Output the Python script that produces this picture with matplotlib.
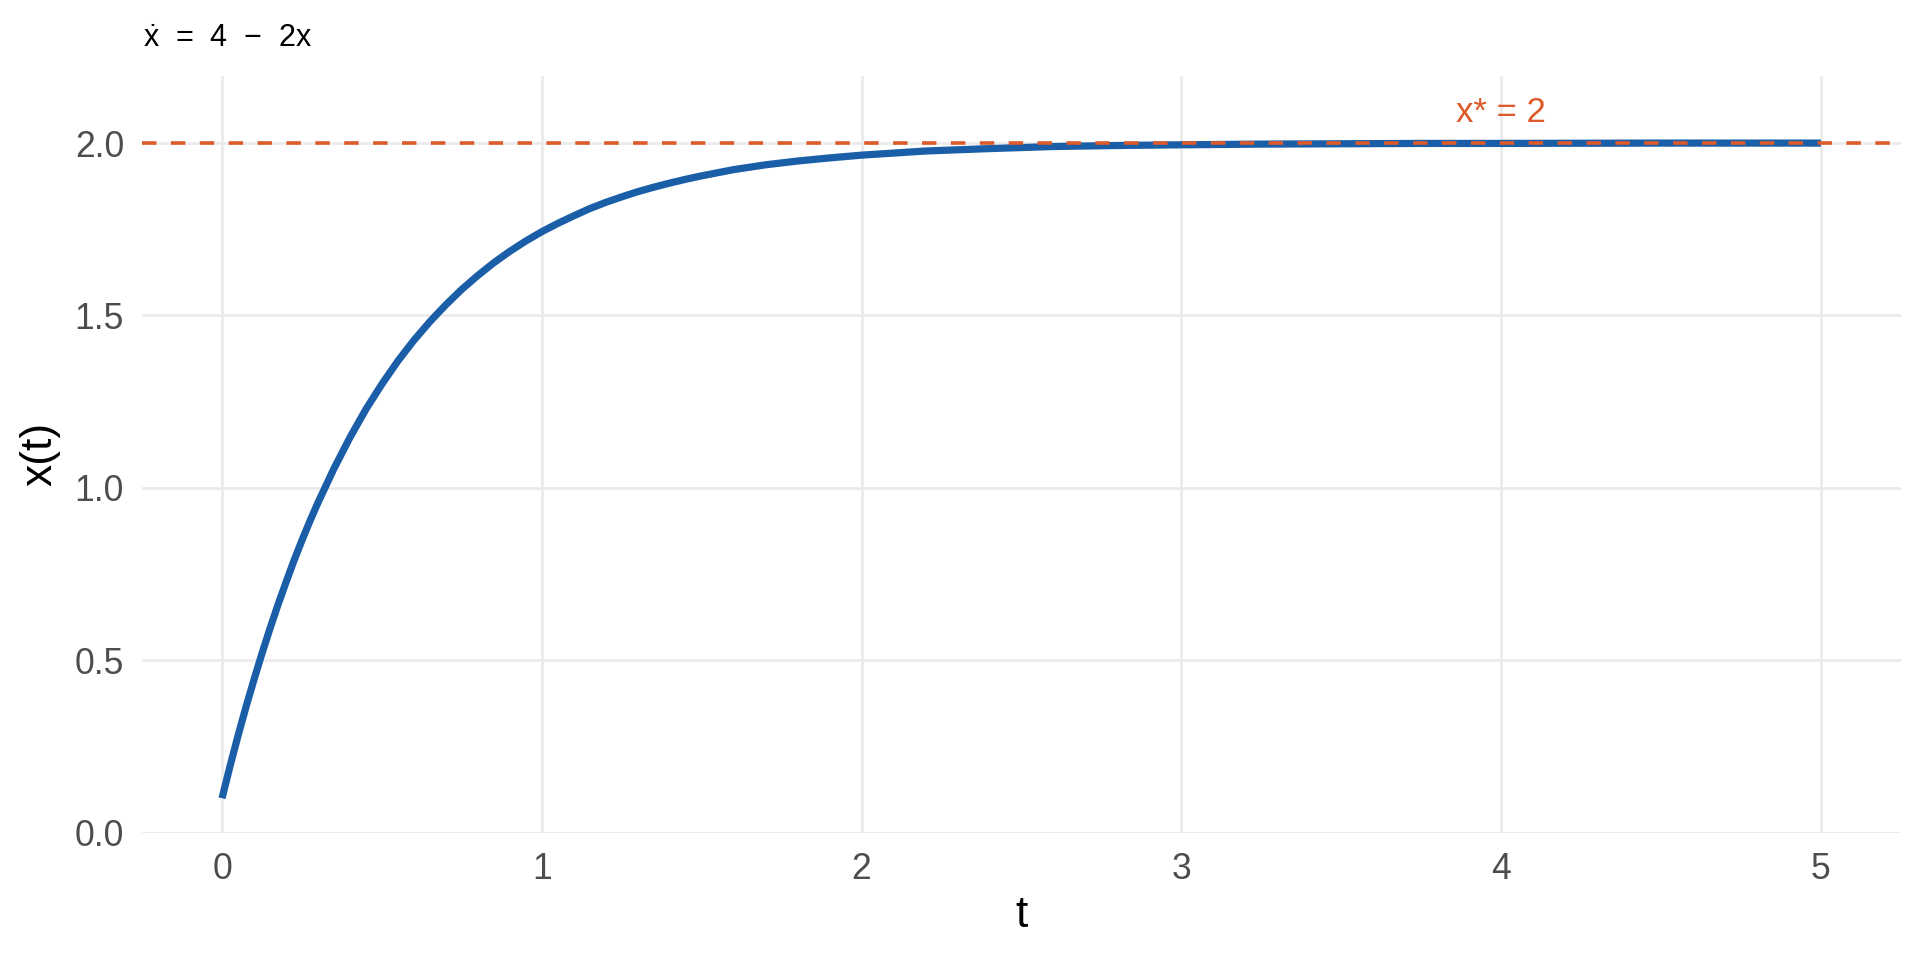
import numpy as np
import matplotlib
matplotlib.use("Agg")
import matplotlib.pyplot as plt

plt.rcParams['font.family'] = ['Liberation Sans', 'DejaVu Sans']
plt.rcParams['mathtext.fontset'] = 'custom'
plt.rcParams['mathtext.rm'] = 'Liberation Sans'
plt.rcParams['mathtext.it'] = 'Liberation Sans'
plt.rcParams['mathtext.bf'] = 'Liberation Sans:bold'

# x(t)
t_vals = [0.0, 0.025, 0.05, 0.075, 0.1, 0.125, 0.15, 0.175, 0.2, 0.225, 0.25, 0.275,
          0.3, 0.35, 0.4, 0.45, 0.5, 0.55, 0.6, 0.65, 0.7, 0.75, 0.8, 0.85, 0.9, 0.95,
          1.0, 1.05, 1.1, 1.15, 1.2, 1.25, 1.3, 1.35, 1.4, 1.45, 1.5, 1.6, 1.7, 1.8,
          1.9, 2.0, 2.2, 2.4, 2.6, 2.8, 3.0, 3.25, 3.5, 3.75, 4.0, 4.5, 5.0]
x_vals = [0.100, 0.193, 0.281, 0.365, 0.444, 0.520, 0.592, 0.661, 0.726, 0.789, 0.848, 0.904,
          0.957, 1.056, 1.146, 1.228, 1.301, 1.368, 1.428, 1.482, 1.531, 1.576, 1.616, 1.653,
          1.686, 1.716, 1.743, 1.767, 1.789, 1.810, 1.828, 1.844, 1.859, 1.872, 1.884, 1.895,
          1.905, 1.923, 1.937, 1.948, 1.957, 1.965, 1.977, 1.984, 1.990, 1.993, 1.995, 1.997,
          1.998, 1.999, 1.999, 2.000, 2.000]
x_star = 2.0
x_ticks = [0, 1, 2, 3, 4, 5]
y_ticks = [0.0, 0.5, 1.0, 1.5, 2.0]

blue = "#1B5EA8"
orange = "#DD5A2B"
grid_c = "#EBEBEB"

fig = plt.figure(figsize=(9.6, 4.8), dpi=200)
ax = fig.add_axes([0.074, 0.1326, 0.916, 0.7884])

ax.plot(t_vals, x_vals, color=blue, lw=2.6, solid_capstyle='butt',
        solid_joinstyle='round', zorder=3)
ax.axhline(x_star, color=orange, lw=1.3, dashes=(4, 4), zorder=4)
ax.text(4, 2.06, "x* = 2", color=orange, fontsize=12.5, ha='center', va='baseline')

ax.set_xlim(-0.25, 5.25)
ax.set_ylim(0, 2.195)
ax.set_xticks(x_ticks)
ax.set_yticks(y_ticks)
ax.set_xticklabels([str(v) for v in x_ticks])
ax.set_yticklabels([f"{v:.1f}" for v in y_ticks])
ax.tick_params(length=0, labelsize=12.8, labelcolor="#4D4D4D")
ax.tick_params(axis='y', pad=6.5)
ax.tick_params(axis='x', pad=7)
ax.grid(True, color=grid_c, lw=1.0)
ax.set_axisbelow(True)
for s in ax.spines.values():
    s.set_visible(False)

ax.set_xlabel("t", fontsize=16, labelpad=3)
ax.set_ylabel("x(t)", fontsize=16, labelpad=5)
fig.text(0.0745, 1 - 47 / 960, "$\\dot{x}$  =  4  \u2212  2x", fontsize=11,
         ha='left', va='baseline')

fig.savefig("out.png", dpi=200)
